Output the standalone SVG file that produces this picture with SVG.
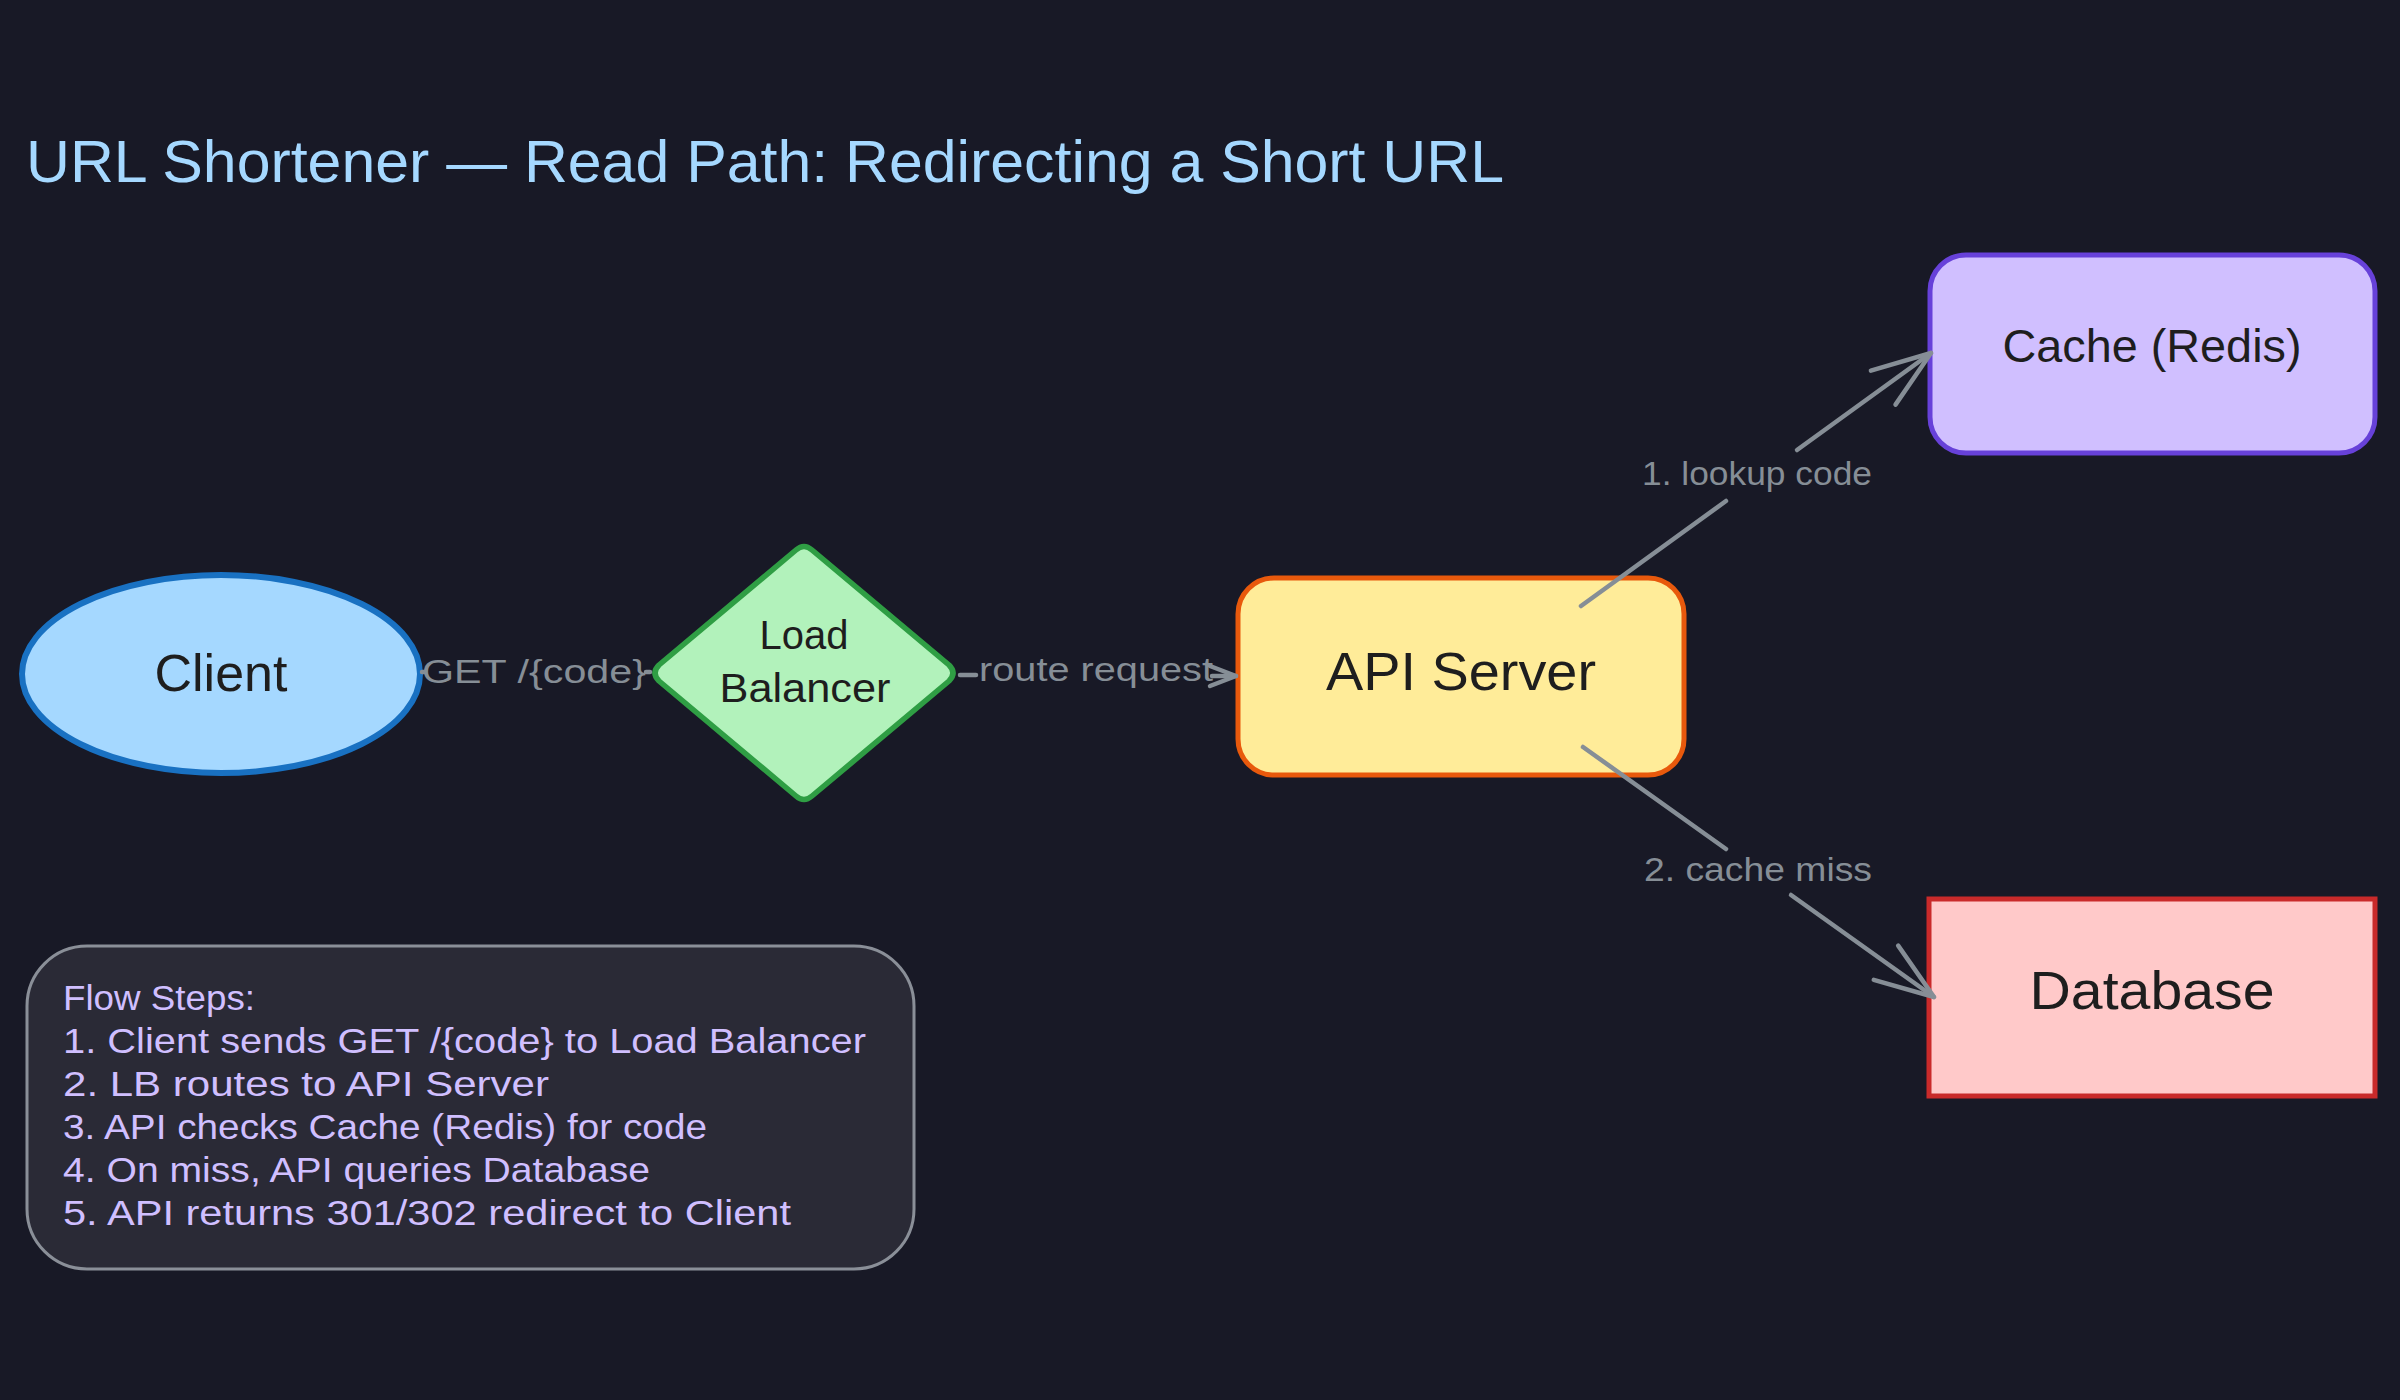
<svg xmlns="http://www.w3.org/2000/svg" width="2400" height="1400" viewBox="0 0 2400 1400">
  <defs>
    <style>
      .title { font-family: "Liberation Sans", "Noto Sans", sans-serif; font-size: 60px; fill: #a5d8ff; }
      .node-label { font-family: "Liberation Sans", "Noto Sans", sans-serif; fill: #1e1e1e; text-anchor: middle; }
      .edge-label { font-family: "Liberation Sans", "Noto Sans", sans-serif; font-size: 33px; fill: #868e96; text-anchor: middle; }
      .steps { font-family: "Liberation Sans", "Noto Sans", sans-serif; font-size: 35px; fill: #d0bfff; }
      .edge { fill: none; stroke: #868e96; stroke-width: 4.5; stroke-linecap: round; stroke-linejoin: round; }
    </style>
    <marker id="arrow-lg" markerUnits="userSpaceOnUse" orient="auto" refX="0" refY="0" markerWidth="80" markerHeight="60" viewBox="-70 -30 80 60" overflow="visible">
      <path d="M-59,-21 L0,0 L-59,21" fill="none" stroke="#868e96" stroke-width="4.5" stroke-linecap="round" stroke-linejoin="round"/>
    </marker>
    <marker id="arrow-sm" markerUnits="userSpaceOnUse" orient="auto" refX="0" refY="0" markerWidth="40" markerHeight="40" viewBox="-35 -20 40 40" overflow="visible">
      <path d="M-26,-10 L0,0 L-26,10" fill="none" stroke="#868e96" stroke-width="4.5" stroke-linecap="round" stroke-linejoin="round"/>
    </marker>
  </defs>

  <rect x="0" y="0" width="2400" height="1400" fill="#181926"/>

  <text id="title" class="title" x="26" y="182" textLength="1478" lengthAdjust="spacingAndGlyphs">URL Shortener — Read Path: Redirecting a Short URL</text>

  <g id="node-client">
    <ellipse cx="221" cy="674" rx="199" ry="99" fill="#a5d8ff" stroke="#1971c2" stroke-width="6"/>
    <text class="node-label" x="221" y="691" font-size="52">Client</text>
  </g>

  <g id="node-lb">
    <path d="M796,550 Q804,543 812,550 L949,665 Q957,673 949,681 L812,796 Q804,803 796,796 L659,681 Q651,673 659,665 Z" fill="#b2f2bb" stroke="#2f9e44" stroke-width="5.5" stroke-linejoin="round"/>
    <text class="node-label" x="804" y="649" font-size="40">Load</text>
    <text class="node-label" x="805" y="702" font-size="40" textLength="171" lengthAdjust="spacingAndGlyphs">Balancer</text>
  </g>

  <g id="node-api">
    <rect x="1238" y="578" width="446" height="197" rx="36" ry="36" fill="#ffec99" stroke="#e8590c" stroke-width="5"/>
    <text class="node-label" x="1461" y="690" font-size="54" textLength="270" lengthAdjust="spacingAndGlyphs">API Server</text>
  </g>

  <g id="node-cache">
    <rect x="1930" y="255" width="445" height="198" rx="36" ry="36" fill="#d0bfff" stroke="#6741d9" stroke-width="5"/>
    <text class="node-label" x="2152" y="362" font-size="46" textLength="299" lengthAdjust="spacingAndGlyphs">Cache (Redis)</text>
  </g>

  <g id="node-db">
    <rect x="1929" y="899" width="446" height="197" fill="#ffc9c9" stroke="#c92a2a" stroke-width="5"/>
    <text class="node-label" x="2152" y="1009" font-size="54" textLength="245" lengthAdjust="spacingAndGlyphs">Database</text>
  </g>

  <g id="node-steps">
    <rect x="27" y="946" width="887" height="323" rx="60" ry="60" fill="#2a2a36" stroke="#8a8f98" stroke-width="3"/>
    <text class="steps" x="63" y="1010" textLength="192" lengthAdjust="spacingAndGlyphs">Flow Steps:</text>
    <text class="steps" x="63" y="1053" textLength="803" lengthAdjust="spacingAndGlyphs">1. Client sends GET /{code} to Load Balancer</text>
    <text class="steps" x="63" y="1096" textLength="486" lengthAdjust="spacingAndGlyphs">2. LB routes to API Server</text>
    <text class="steps" x="63" y="1139" textLength="644" lengthAdjust="spacingAndGlyphs">3. API checks Cache (Redis) for code</text>
    <text class="steps" x="63" y="1182" textLength="587" lengthAdjust="spacingAndGlyphs">4. On miss, API queries Database</text>
    <text class="steps" x="63" y="1225" textLength="728" lengthAdjust="spacingAndGlyphs">5. API returns 301/302 redirect to Client</text>
  </g>

  <g id="connectors">
    <g id="edge-client-lb">
      <path class="edge" d="M422,672 L425,672"/>
      <path class="edge" d="M646,672 L650,672"/>
      <text class="edge-label" x="534" y="683" textLength="224" lengthAdjust="spacingAndGlyphs">GET /{code}</text>
    </g>
    <g id="edge-lb-api">
      <path class="edge" d="M960,675 L976,675"/>
      <path class="edge" d="M1212,676 L1236,676" marker-end="url(#arrow-sm)"/>
      <text class="edge-label" x="1096" y="681" textLength="234" lengthAdjust="spacingAndGlyphs">route request</text>
    </g>
    <g id="edge-api-cache">
      <path class="edge" d="M1581,606 L1726,501"/>
      <path class="edge" d="M1797,450 L1931,353" marker-end="url(#arrow-lg)"/>
      <text class="edge-label" x="1757" y="485" textLength="230" lengthAdjust="spacingAndGlyphs">1. lookup code</text>
    </g>
    <g id="edge-api-db">
      <path class="edge" d="M1583,747 L1726,849"/>
      <path class="edge" d="M1791,895 L1934,997" marker-end="url(#arrow-lg)"/>
      <text class="edge-label" x="1758" y="881" textLength="228" lengthAdjust="spacingAndGlyphs">2. cache miss</text>
    </g>
  </g>
</svg>
